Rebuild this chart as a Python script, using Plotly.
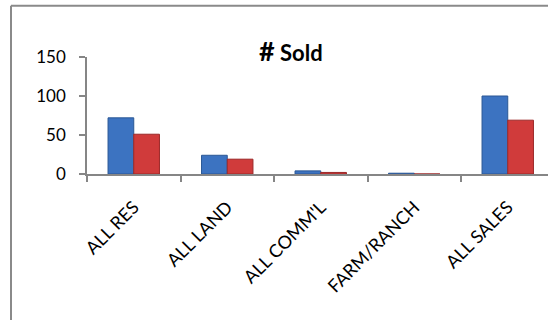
import plotly.graph_objects as go

# Units sold by property type, two periods
categories = ["ALL RES", "ALL LAND", "ALL COMM'L", "FARM/RANCH", "ALL SALES"]
sold_current = [72, 24, 4, 1, 100]
sold_prior = [51, 19, 2, 0, 69]
y_ticks = [0, 50, 100, 150]

FONT = "Lato"
AXIS_GRAY = "#868686"

W, H = 548, 320
L, R, T, B = 87, 0, 57, 146
plot_w = W - L - R
plot_h = H - T - B

fig = go.Figure()
fig.add_trace(go.Bar(
    x=categories, y=sold_current, name="Current",
    marker=dict(color="#3C73C1", line=dict(color="#2A5795", width=1)),
))
fig.add_trace(go.Bar(
    x=categories, y=sold_prior, name="Prior",
    marker=dict(color="#D03B3B", line=dict(color="#9C2929", width=1)),
))

# Category axis is cut at the right edge of the chart frame
step = 93.5
x_hi = -0.5 + plot_w / step

fig.update_layout(
    width=W, height=H,
    margin=dict(l=L, r=R, t=T, b=B),
    paper_bgcolor="white", plot_bgcolor="white",
    barmode="group", bargap=0.45, bargroupgap=0,
    showlegend=False,
    font=dict(family=FONT, color="black", size=17),
    xaxis=dict(
        range=[-0.5, x_hi], tickson="boundaries",
        showline=True, linecolor=AXIS_GRAY, linewidth=1.5,
        ticks="outside", ticklen=6, tickcolor=AXIS_GRAY, tickwidth=1.5,
        tickangle=-45, tickfont=dict(family=FONT, size=18),
        ticklabelstandoff=14,
        showgrid=False, zeroline=False,
    ),
    yaxis=dict(
        range=[0, 150], tickvals=y_ticks,
        showline=True, linecolor=AXIS_GRAY, linewidth=1.5,
        ticks="outside", ticklen=6, tickcolor=AXIS_GRAY, tickwidth=1.5,
        tickfont=dict(family=FONT, size=17), ticklabelstandoff=10,
        showgrid=False, zeroline=False,
    ),
)

# Chart title
fig.add_annotation(
    text="<b><span style='font-size:27px'>#</span> Sold</b>",
    xref="paper", yref="paper",
    x=(291 - L) / plot_w, y=(T + plot_h - 50) / plot_h,
    xanchor="center", yanchor="middle", showarrow=False,
    font=dict(family=FONT, size=22, color="black"),
)

# Outer chart frame (top and left edges fall inside the page)
def px_x(p):
    return (p - L) / plot_w

def px_y(p):
    return (T + plot_h - p) / plot_h

frame = dict(color="#8A8A8A", width=2)
fig.add_shape(type="line", xref="paper", yref="paper",
              x0=px_x(11), x1=px_x(W + 10), y0=px_y(5.8), y1=px_y(5.8), line=frame)
fig.add_shape(type="line", xref="paper", yref="paper",
              x0=px_x(11), x1=px_x(11), y0=px_y(5.8), y1=px_y(H + 10), line=frame)

fig.write_html("out.html")
